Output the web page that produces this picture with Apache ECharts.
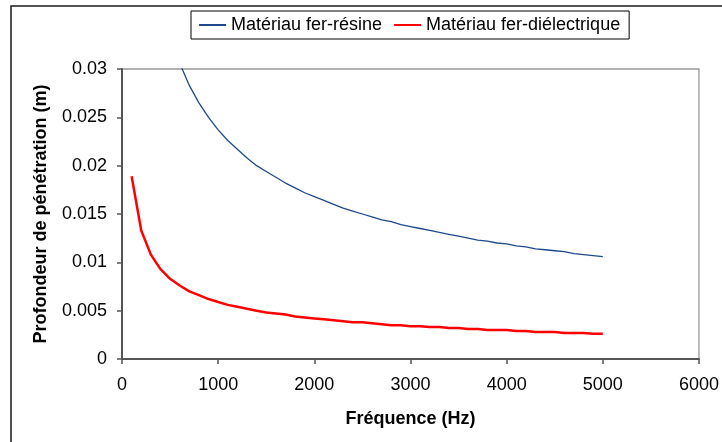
<!DOCTYPE html>
<html>
<head>
<meta charset="utf-8">
<script src="https://cdn.jsdelivr.net/npm/echarts@6/dist/echarts.min.js"></script>
<style>
  html, body { margin: 0; padding: 0; background: #fff; }
  #chart { width: 722px; height: 442px; }
</style>
</head>
<body>
<div id="chart"></div>
<script>
// Frequencies (Hz)
const frequencies = [
  100, 200, 300, 400, 500, 600, 700, 800, 900, 1000,
  1100, 1200, 1300, 1400, 1500, 1600, 1700, 1800, 1900, 2000,
  2100, 2200, 2300, 2400, 2500, 2600, 2700, 2800, 2900, 3000,
  3100, 3200, 3300, 3400, 3500, 3600, 3700, 3800, 3900, 4000,
  4100, 4200, 4300, 4400, 4500, 4600, 4700, 4800, 4900, 5000
];

// Penetration depth (m), iron-resin material
const ferResine = [
  0.0750, 0.0530, 0.0433, 0.0375, 0.0335, 0.0306, 0.0283, 0.0265, 0.0250, 0.0237,
  0.0226, 0.0217, 0.0208, 0.0200, 0.0194, 0.0188, 0.0182, 0.0177, 0.0172, 0.0168,
  0.0164, 0.0160, 0.0156, 0.0153, 0.0150, 0.0147, 0.0144, 0.0142, 0.0139, 0.0137,
  0.0135, 0.0133, 0.0131, 0.0129, 0.0127, 0.0125, 0.0123, 0.0122, 0.0120, 0.0119,
  0.0117, 0.0116, 0.0114, 0.0113, 0.0112, 0.0111, 0.0109, 0.0108, 0.0107, 0.0106
];

// Penetration depth (m), iron-dielectric material
const ferDielectrique = [
  0.0189, 0.0133, 0.0108, 0.0093, 0.0083, 0.0076, 0.0070, 0.0066, 0.0062, 0.0059,
  0.0056, 0.0054, 0.0052, 0.0050, 0.0048, 0.0047, 0.0046, 0.0044, 0.0043, 0.0042,
  0.0041, 0.0040, 0.0039, 0.0038, 0.0038, 0.0037, 0.0036, 0.0035, 0.0035, 0.0034,
  0.0034, 0.0033, 0.0033, 0.0032, 0.0032, 0.0031, 0.0031, 0.0030, 0.0030, 0.0030,
  0.0029, 0.0029, 0.0028, 0.0028, 0.0028, 0.0027, 0.0027, 0.0027, 0.0026, 0.0026
];

const seriesNames = ['Matériau fer-résine', 'Matériau fer-diélectrique'];

const pairs = (xs, ys) => xs.map((x, i) => [x, ys[i]]);

const chart = echarts.init(document.getElementById('chart'), null, { renderer: 'canvas' });

const font = 'Liberation Sans, Arial, sans-serif';

chart.setOption({
  animation: false,
  backgroundColor: '#ffffff',
  textStyle: { fontFamily: font },
  // outer chart frame
  graphic: [{
    type: 'rect',
    shape: { x: 11, y: 6, width: 800, height: 500 },
    style: { fill: 'none', stroke: '#1a1a1a', lineWidth: 1.5 },
    silent: true,
    z: -1
  }],
  legend: {
    left: 191,
    top: 11,
    padding: [5, 9, 5, 7],
    itemGap: 11,
    itemWidth: 27,
    itemHeight: 14,
    borderColor: '#000',
    borderWidth: 1,
    // line-only legend keys: hide the marker drawn over the line
    itemStyle: { opacity: 0 },
    textStyle: { fontFamily: font, fontSize: 18, color: '#000' },
    data: seriesNames
  },
  grid: {
    left: 122,
    right: 23,
    top: 69,
    bottom: 83,
    show: true,
    borderColor: '#999',
    borderWidth: 1.3,
    backgroundColor: '#fff'
  },
  xAxis: {
    type: 'value',
    min: 0,
    max: 6000,
    interval: 1000,
    name: 'Fréquence (Hz)',
    nameLocation: 'middle',
    nameGap: 51,
    nameTextStyle: { fontFamily: font, fontSize: 18, fontWeight: 'bold', color: '#000' },
    axisLine: { show: true, onZero: false, lineStyle: { color: '#555', width: 2 } },
    axisTick: { show: true, inside: false, length: 5, lineStyle: { color: '#555', width: 1.5 } },
    axisLabel: {
      fontFamily: font, fontSize: 18, color: '#000', margin: 17,
      formatter: v => String(v)
    },
    splitLine: { show: false }
  },
  yAxis: {
    type: 'value',
    min: 0,
    max: 0.03,
    interval: 0.005,
    name: 'Profondeur de pénétration (m)',
    nameLocation: 'middle',
    nameGap: 72,
    nameTextStyle: { fontFamily: font, fontSize: 18, fontWeight: 'bold', color: '#000' },
    axisLine: { show: true, lineStyle: { color: '#555', width: 2 } },
    axisTick: { show: true, inside: false, length: 5, lineStyle: { color: '#555', width: 1.5 } },
    axisLabel: {
      fontFamily: font, fontSize: 18, color: '#000', margin: 15,
      formatter: v => String(Number(v.toFixed(3)))
    },
    splitLine: { show: false }
  },
  series: [
    {
      name: seriesNames[0],
      type: 'line',
      data: pairs(frequencies, ferResine),
      showSymbol: false,
      symbol: 'none',
      clip: true,
      lineStyle: { color: '#1d4a8a', width: 1.3 },
      itemStyle: { color: '#1d4a8a' }
    },
    {
      name: seriesNames[1],
      type: 'line',
      data: pairs(frequencies, ferDielectrique),
      showSymbol: false,
      symbol: 'none',
      clip: true,
      lineStyle: { color: '#ff0000', width: 2.5 },
      itemStyle: { color: '#ff0000' }
    }
  ]
});
</script>
</body>
</html>
